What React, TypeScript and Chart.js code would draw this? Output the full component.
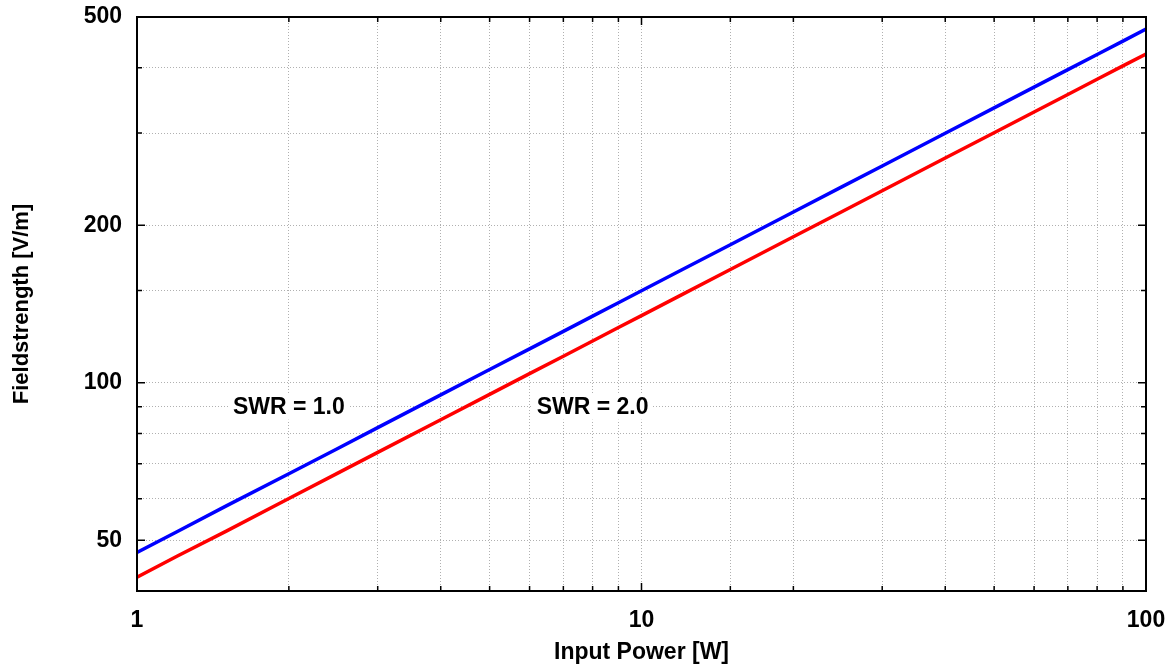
import { useEffect, useRef } from "react";
import { Chart, registerables } from "chart.js";

Chart.register(...registerables);

// input power [W]
const powerW = [1, 1.2, 1.5, 2, 2.5, 3, 4, 5, 6, 7, 8, 9, 10, 12, 15, 20, 25, 30, 40, 50, 60, 70, 80, 90, 100];
// field strength [V/m]
const swr10 = [47.4, 51.9, 58.1, 67.0, 74.9, 82.1, 94.8, 106.0, 116.1, 125.4, 134.1, 142.2, 149.9, 164.2, 183.6, 212.0, 237.0, 259.6, 299.8, 335.2, 367.2, 396.6, 424.0, 449.7, 474.0];
const swr20 = [42.5, 46.6, 52.0, 60.1, 67.2, 73.6, 85.0, 95.0, 104.1, 112.4, 120.2, 127.5, 134.4, 147.2, 164.6, 190.1, 212.5, 232.8, 268.8, 300.5, 329.2, 355.6, 380.1, 403.2, 425.0];

const xTickLabels = [1, 10, 100];
const yTickLabels = [50, 100, 200, 500];

// text labels inside the plot
const noteTexts = ["SWR = 1.0", "SWR = 2.0"];
const noteX = [2.0, 8.0];
const noteY = [90, 90];

const FONT = "'Liberation Sans', Arial, sans-serif";

const framePlugin = {
  id: "frame",
  afterDraw(chart: any) {
    const { ctx, chartArea } = chart;
    const { left, right, top, bottom } = chartArea;
    const xs = chart.scales.x;
    const ys = chart.scales.y;
    ctx.save();
    ctx.strokeStyle = "#000";
    ctx.lineWidth = 1.5;
    ctx.beginPath();
    // inward ticks on all four sides
    xs.ticks.forEach((t: any) => {
      const px = xs.getPixelForValue(t.value);
      const len = xTickLabels.includes(t.value) ? 8 : 5;
      ctx.moveTo(px, bottom);
      ctx.lineTo(px, bottom - len);
      ctx.moveTo(px, top);
      ctx.lineTo(px, top + len);
    });
    ys.ticks.forEach((t: any) => {
      const py = ys.getPixelForValue(t.value);
      const len = yTickLabels.includes(t.value) ? 8 : 5;
      ctx.moveTo(left, py);
      ctx.lineTo(left + len, py);
      ctx.moveTo(right, py);
      ctx.lineTo(right - len, py);
    });
    ctx.stroke();
    ctx.lineWidth = 2;
    ctx.strokeRect(left, top, right - left, bottom - top);
    ctx.restore();
  },
  beforeDatasetsDraw(chart: any) {
    const { ctx } = chart;
    const xs = chart.scales.x;
    const ys = chart.scales.y;
    ctx.save();
    ctx.font = `bold 23px ${FONT}`;
    ctx.textAlign = "center";
    ctx.textBaseline = "middle";
    noteTexts.forEach((txt, i) => {
      const px = xs.getPixelForValue(noteX[i]);
      const py = ys.getPixelForValue(noteY[i]);
      const w = ctx.measureText(txt).width;
      ctx.fillStyle = "#fff";
      ctx.fillRect(px - w / 2 - 4, py - 13, w + 8, 26);
      ctx.fillStyle = "#000";
      ctx.fillText(txt, px, py + 1);
    });
    ctx.restore();
  },
};

export default function App() {
  const chartRef = useRef<HTMLCanvasElement>(null);
  const chartInstance = useRef<Chart | null>(null);

  useEffect(() => {
    if (!chartRef.current) return;
    if (chartInstance.current) chartInstance.current.destroy();

    const ctx = chartRef.current.getContext("2d");
    if (!ctx) return;

    const gridOpts = {
      color: "#b0b0b0",
      lineWidth: 1,
      drawTicks: false,
    };

    chartInstance.current = new Chart(ctx, {
      type: "line",
      data: {
        datasets: [
          {
            label: "SWR = 1.0",
            data: powerW.map((p, i) => ({ x: p, y: swr10[i] })),
            borderColor: "#0000ff",
            borderWidth: 3.5,
            pointRadius: 0,
            tension: 0,
          },
          {
            label: "SWR = 2.0",
            data: powerW.map((p, i) => ({ x: p, y: swr20[i] })),
            borderColor: "#ff0000",
            borderWidth: 3.5,
            pointRadius: 0,
            tension: 0,
          },
        ],
      },
      options: {
        responsive: true,
        maintainAspectRatio: false,
        animation: false,
        layout: { padding: { top: 17, right: 29, left: 0, bottom: 0 } },
        plugins: {
          legend: { display: false },
          tooltip: { enabled: false },
        },
        scales: {
          x: {
            type: "logarithmic",
            min: 1,
            max: 100,
            grid: gridOpts,
            border: { display: false, dash: [1, 2] },
            afterFit: (scale: any) => {
              scale.height = 75;
              scale.paddingLeft = 0;
              scale.paddingRight = 0;
            },
            ticks: {
              autoSkip: false,
              maxRotation: 0,
              padding: 16,
              color: "#000",
              font: { family: FONT, size: 23, weight: "bold" },
              callback: (v: any) => (xTickLabels.includes(Number(v)) ? String(v) : ""),
            },
            title: {
              display: true,
              text: "Input Power [W]",
              color: "#000",
              font: { family: FONT, size: 23, weight: "bold", lineHeight: 1 },
              padding: { top: 0, bottom: 2 },
            },
          },
          y: {
            type: "logarithmic",
            min: 40,
            max: 500,
            grid: gridOpts,
            border: { display: false, dash: [1, 2] },
            afterFit: (scale: any) => {
              scale.width = 137;
              scale.paddingTop = 0;
              scale.paddingBottom = 0;
            },
            ticks: {
              autoSkip: false,
              padding: 15,
              color: "#000",
              font: { family: FONT, size: 23, weight: "bold" },
              callback: (v: any) => (yTickLabels.includes(Number(v)) ? String(v) : ""),
            },
            title: {
              display: true,
              text: "Fieldstrength [V/m]",
              color: "#000",
              font: { family: FONT, size: 22, weight: "bold", lineHeight: 1 },
              padding: { top: 11, bottom: 0 },
            },
          },
        },
      },
      plugins: [framePlugin],
    } as any);

    return () => {
      if (chartInstance.current) {
        chartInstance.current.destroy();
        chartInstance.current = null;
      }
    };
  }, []);

  return (
    <div style={{ position: "fixed", left: 0, top: 0, width: 1175, height: 666, background: "#fff" }}>
      <canvas ref={chartRef} />
    </div>
  );
}
